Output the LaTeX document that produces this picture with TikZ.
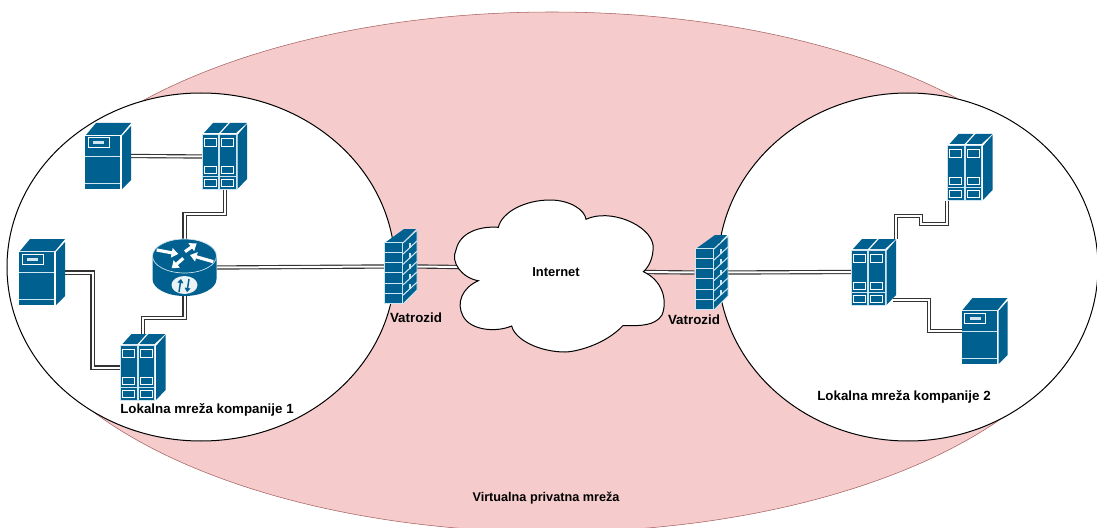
\documentclass[tikz,border=0pt]{standalone}
\usepackage{fontspec}
\setmainfont{Liberation Sans}
\usetikzlibrary{calc,arrows.meta}
\definecolor{devblue}{HTML}{00608F}
\definecolor{devline}{HTML}{CFE6F2}
\definecolor{vpnpink}{HTML}{F5CBCB}
\definecolor{vpnedge}{HTML}{A86060}
\definecolor{wirecol}{HTML}{333333}
\tikzset{
  x=0.75pt,y=-0.75pt,
  bay/.style={draw=white,line width=0.75pt,fill=devblue},
  slab/.style={draw=devline,line width=0.6pt,fill=devblue},
  foot/.style={inner sep=0pt,outer sep=0pt,minimum height=50pt},
  wire/.style={draw=wirecol,line width=0.85pt,double=white,double distance=1.5pt,line join=miter},
  zone/.style={draw=black,line width=0.75pt,fill=white},
  lbl/.style={font=\bfseries\fontsize{10pt}{12pt}\selectfont,text=black,inner sep=0pt},
  rtarrow/.style={draw=white,line width=2.4pt,-{Triangle[length=5pt,width=7pt]}},
  rtinner/.style={draw=devblue,line width=1.1pt,-{Triangle[length=3pt,width=4.5pt]}},
  tower/.pic={
    \fill[devblue] (1,12)--(11,0)--(46,0)--(36,12)--cycle;
    \fill[devblue] (37,13)--(46,3)--(46,57)--(37,66)--cycle;
    \fill[devblue] (0,13) rectangle (35,66);
    \draw[draw=devline,line width=.7pt] (0,33)--(35,33) (0,60)--(35,60);
    \draw[bay] (3,15) rectangle (24,25);
    \fill[devline] (8,18.5) rectangle (19,21.5);
  },
  blade/.pic={
    \fill[devblue] (2,10)--(11,0)--(26,0)--(17,10)--cycle;
    \fill[devblue] (19,10)--(28,0)--(45,0)--(34,10)--cycle;
    \fill[devblue] (35.5,12)--(45,1)--(45,56)--(35.5,66)--cycle;
    \foreach \c in {0,17.5}{
      \draw[slab] (\c,11) rectangle (\c+16.5,66);
      \draw[bay,line width=.6pt] (\c+2.2,15.5) rectangle (\c+14.3,23);
      \draw[bay,line width=.6pt] (\c+2.2,43.5) rectangle (\c+14.3,50.5);
      \draw[devline,line width=.7pt] (\c,53.5)--(\c+16.5,53.5);
      \draw[bay,line width=.6pt] (\c+2.2,56.5) rectangle (\c+14.3,63.5);
    }
  },
  wall/.pic={
    \fill[devblue] (2,13)--(20,0)--(32,0)--(19,13)--cycle;
    \fill[devblue] (19,14)--(33,1)--(33,61)--(19,75)--cycle;
    \draw[devline,line width=.7pt] (19,14)--(33,1)--(33,61)--(19,75);
    \foreach \i in {0,1,2,3,4,5}{
      \draw[devline,line width=.7pt,fill=devblue] (0,13+\i*10.3) rectangle (18,13+\i*10.3+10.3);
    }
    \foreach \i in {0,1,2,3,4}{
      \draw[devline,line width=.8pt] (19,25+\i*10.3)--(33,12+\i*10.3);
      \draw[devline,line width=.8pt] (26,{14+\i*10.3})--(26,{19+\i*10.3});
    }
  },
}
\begin{document}
\begin{tikzpicture}
\useasboundingbox (0,0) rectangle (1097,528);
\clip (0,0) rectangle (1097,528);
\fill[white] (0,0) rectangle (1097,528);
% zones
\node[inner sep=0pt] (vpn) at (552,272) {};
\fill[vpnpink,draw=vpnedge,line width=.4pt] (vpn) ellipse [x radius=544,y radius=260];
\node[inner sep=0pt] (lan1) at (201,267) {};
\node[inner sep=0pt] (lan2) at (908,267) {};
\draw[zone] (lan1) ellipse [x radius=194,y radius=174];
\draw[zone] (lan2) ellipse [x radius=190,y radius=174];
% device footprints
\node[foot,minimum width=34.5pt] (sA) at (108,156) {};
\node[foot,minimum width=34pt] (bB) at (225,156.5) {};
\node[foot,minimum width=48.75pt,minimum height=42.75pt] (rt) at (184.5,267.5) {};
\node[foot,minimum width=34.5pt] (sD) at (41.5,272.5) {};
\node[foot,minimum width=34pt] (bC) at (143,367.5) {};
\node[foot,minimum width=25pt,minimum height=56pt] (fwL) at (400.5,266.5) {};
\node[foot,minimum width=25pt,minimum height=56pt] (fwR) at (711,272.5) {};
\node[foot,minimum width=34pt] (bE) at (873.5,272) {};
\node[foot,minimum width=34pt] (bF) at (970,167.5) {};
\node[foot,minimum width=34.5pt] (sG) at (984.5,331) {};
\coordinate (cloudL) at (458,267);
\coordinate (cloudR) at (642,272);
% connectors
\draw[wire] (sA.east) -- (bB.west);
\draw[wire] (bB.south) -- ++(0,24) -| (rt.north);
\draw[wire] (rt.east) -- (fwL.west);
\draw[wire] (rt.south) -- ++(0,22) -| (bC.north);
\draw[wire] (sD.east) -- ++(28,0) |- (bC.west);
\draw[wire] (fwL.east) -- (cloudL);
\draw[wire] (cloudR) -- (fwR.west);
\draw[wire] (fwR.east) -- (bE.west);
\draw[wire] (bE.north east) -- ++(0,-23) -- ++(25,0) -- ++(0,8) -- ++(25,0) -| (bF.south west);
\draw[wire] ($(bE.south east)+(-3,-5)$) -- ++(36,0) |- (sG.west);
% cloud
\draw[fill=white,draw=black,line width=.75pt]
  (478.3,280.7)
  .. controls (462,278) and (450,262) .. (456,250)
  .. controls (460,232) and (480,226) .. (498.3,227.3)
  .. controls (502,212) and (525,200) .. (550,200)
  .. controls (570,200) and (585,210) .. (586,219.3)
  .. controls (610,208) and (650,225) .. (653,245)
  .. controls (654,258) and (648,268) .. (643.3,271.7)
  .. controls (662,280) and (668,300) .. (662,315)
  .. controls (655,326) and (640,326) .. (623,325.5)
  .. controls (605,345) and (575,352) .. (565,352)
  .. controls (540,352) and (515,340) .. (511.7,326)
  .. controls (495,333) and (470,330) .. (463,316)
  .. controls (456,303) and (462,288) .. (478.3,280.7)
  -- cycle;
% devices
\pic at (85,123) {tower};
\pic at (202,123) {blade};
\pic at (19,239) {tower};
\pic at (120.5,334) {blade};
\pic at (851,239) {blade};
\pic at (947.5,134) {blade};
\pic at (961.5,298) {tower};
\pic at (384,229) {wall};
\pic at (695,235) {wall};
% router
\fill[devblue] (152.5,256) -- (152.5,279) arc[start angle=180,end angle=0,x radius=32,y radius=17] -- (216.5,256) -- cycle;
\draw[devline,line width=.5pt,fill=devblue] (184.5,256) ellipse [x radius=32,y radius=17];
\fill[white!92!devblue] (184.5,285) ellipse [x radius=13,y radius=9];
\draw[rtarrow] (156.7,250) -- (178.3,254);
\draw[rtarrow] (185,251.7) -- (196.7,243.3);
\draw[rtarrow] (213.3,261.7) -- (190,255);
\draw[rtarrow] (183.3,258.3) -- (171.7,268.3);
\draw[rtinner] (179,292) -- (181,279);
\draw[rtinner] (189,279) -- (187,292);
% labels
\node[lbl] (t1) at (207,410) {Lokalna mreža kompanije 1};
\node[lbl] (t2) at (904,397) {Lokalna mreža kompanije 2};
\node[lbl] (t3) at (416,318) {Vatrozid};
\node[lbl] (t4) at (694,320) {Vatrozid};
\node[lbl,font=\bfseries\fontsize{9.7pt}{12pt}\selectfont] (t5) at (556,272) {Internet};
\node[lbl,font=\bfseries\fontsize{9.5pt}{12pt}\selectfont] (t6) at (546,498) {Virtualna privatna mreža};
\end{tikzpicture}
\end{document}
